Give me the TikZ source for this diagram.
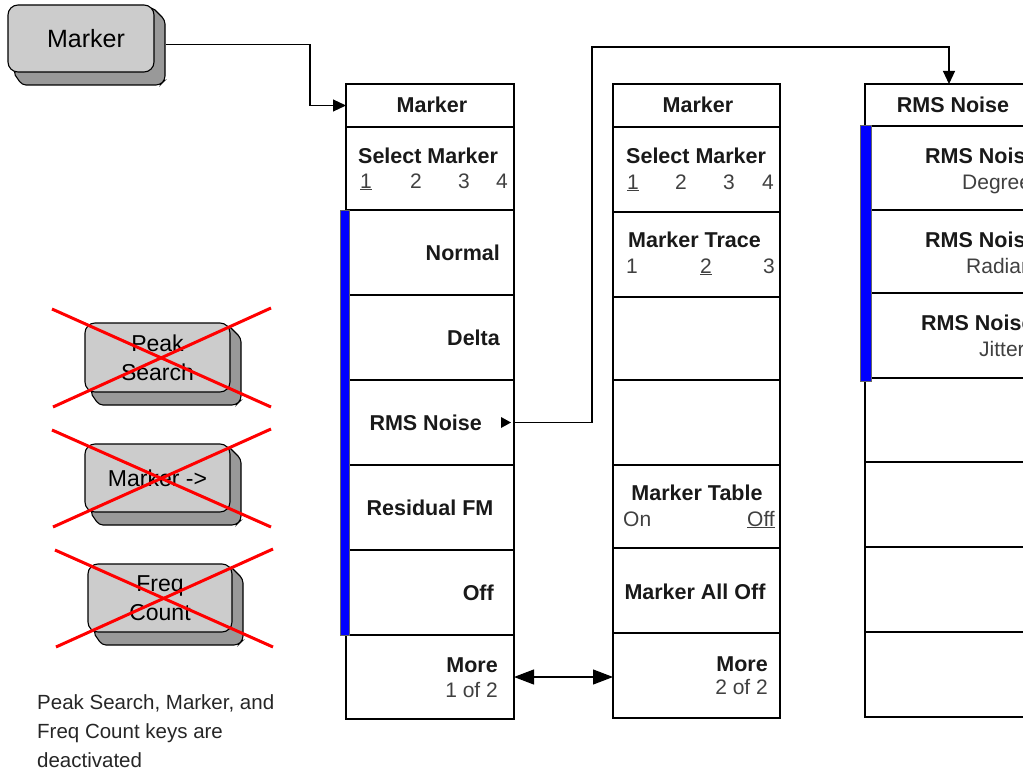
\documentclass[tikz,border=0pt]{standalone}
\usepackage{fontspec}
\setmainfont{Liberation Sans}
\usetikzlibrary{arrows.meta,calc}
\pgfdeclarelayer{bg}
\pgfsetlayers{bg,main}
\newcommand\keyshadow[1]{\begin{pgfonlayer}{bg}\draw[kshadow] ($(#1.north east)+(-2,2)$) -- ($(#1.north east)+(11,15)$) -- ($(#1.south east)+(11,8)$) -- ($(#1.south east)+(6,13)$) -- ($(#1.south west)+(14,13)$) -- ($(#1.south west)+(5,0)$) -- cycle;\end{pgfonlayer}}
\newcommand\crossout[1]{\draw[xline] ($(#1.north west)+(-33,-14)$) -- ($(#1.south east)+(41,15)$);\draw[xline] ($(#1.south west)+(-32,15)$) -- ($(#1.north east)+(41,-15)$);}
\begin{document}
\begin{tikzpicture}[x=1pt,y=-1pt,
 mcell/.style={draw=black,line width=1.2pt,anchor=north west,inner sep=0pt,outer sep=0pt},
 lbl/.style={font=\fontsize{21.5}{26}\selectfont\bfseries,inner sep=0pt,text=black!90},
 sub/.style={font=\fontsize{21}{25}\selectfont,inner sep=0pt,text=black!75},
 keyface/.style={draw=black,line width=1.1pt,fill=black!20,rounded corners=10pt,inner sep=0pt,outer sep=0pt,align=center,font=\fontsize{23}{29}\selectfont},
 kshadow/.style={draw=black,line width=1.1pt,fill=black!40,rounded corners=4pt},
 conn/.style={draw=black,line width=1.1pt},
 xline/.style={draw=red,line width=3pt},
 bar/.style={fill=blue,draw=black!60,line width=0.6pt},
 >={Triangle[length=13pt,width=12pt]}
]
\clip (0,0) rectangle (1023,776);

% ---------- panel 1 ----------
\node[mcell,minimum width=168pt,minimum height=43pt] (a0) at (346,84) {};
\node[mcell,minimum width=168pt,minimum height=83pt] (a1) at (346,127) {};
\node[mcell,minimum width=168pt,minimum height=85pt] (a2) at (346,210) {};
\node[mcell,minimum width=168pt,minimum height=85pt] (a3) at (346,295) {};
\node[mcell,minimum width=168pt,minimum height=85pt] (a4) at (346,380) {};
\node[mcell,minimum width=168pt,minimum height=85pt] (a5) at (346,465) {};
\node[mcell,minimum width=168pt,minimum height=85pt] (a6) at (346,550) {};
\node[mcell,minimum width=168pt,minimum height=84pt] (a7) at (346,635) {};
\fill[bar] (340,210) rectangle (349,635);

\node[lbl,anchor=base] (a0t) at (432,113) {Marker};
\node[lbl,anchor=base west] (a1t) at (358,163) {Select Marker};
\node[sub,anchor=base west] (a1n1) at (360,188) {\underline{1}};
\node[sub,anchor=base west] (a1n2) at (410,188) {2};
\node[sub,anchor=base west] (a1n3) at (458,188) {3};
\node[sub,anchor=base west] (a1n4) at (496,188) {4};
\node[lbl,anchor=base east] (a2t) at (500,260) {Normal};
\node[lbl,anchor=base east] (a3t) at (500,345) {Delta};
\node[lbl,anchor=base east] (a4t) at (482,430) {RMS Noise};
\fill (501,417) -- (511,422.5) -- (501,428) -- cycle;
\node[lbl,anchor=base] (a5t) at (430,515) {Residual FM};
\node[lbl,anchor=base east] (a6t) at (494,600) {Off};
\node[lbl,anchor=base east] (a7t) at (498,672) {More};
\node[sub,anchor=base east] (a7s) at (498,697) {1 of 2};

% ---------- panel 2 ----------
\node[mcell,minimum width=167pt,minimum height=43pt] (b0) at (613,84) {};
\node[mcell,minimum width=167pt,minimum height=85pt] (b1) at (613,127) {};
\node[mcell,minimum width=167pt,minimum height=85pt] (b2) at (613,212) {};
\node[mcell,minimum width=167pt,minimum height=83pt] (b3) at (613,297) {};
\node[mcell,minimum width=167pt,minimum height=85pt] (b4) at (613,380) {};
\node[mcell,minimum width=167pt,minimum height=83pt] (b5) at (613,465) {};
\node[mcell,minimum width=167pt,minimum height=85pt] (b6) at (613,548) {};
\node[mcell,minimum width=167pt,minimum height=85pt] (b7) at (613,633) {};

\node[lbl,anchor=base] (b0t) at (698,112) {Marker};
\node[lbl,anchor=base west] (b1t) at (626,163) {Select Marker};
\node[sub,anchor=base west] (b1n1) at (627,189) {\underline{1}};
\node[sub,anchor=base west] (b1n2) at (675,189) {2};
\node[sub,anchor=base west] (b1n3) at (723,189) {3};
\node[sub,anchor=base west] (b1n4) at (762,189) {4};
\node[lbl,anchor=base west] (b2t) at (628,247) {Marker Trace};
\node[sub,anchor=base west] (b2n1) at (626,273) {1};
\node[sub,anchor=base west] (b2n2) at (700,273) {\underline{2}};
\node[sub,anchor=base west] (b2n3) at (763,273) {3};
\node[lbl,anchor=base] (b5t) at (697,500) {Marker Table};
\node[sub,anchor=base west] (b5a) at (623,526) {On};
\node[sub,anchor=base east] (b5b) at (775,526) {\underline{Off}};
\node[lbl,anchor=base] (b6t) at (695,599) {Marker All Off};
\node[lbl,anchor=base east] (b7t) at (768,671) {More};
\node[sub,anchor=base east] (b7s) at (768,694) {2 of 2};

% ---------- panel 3 ----------
\node[mcell,minimum width=185pt,minimum height=42pt] (c0) at (865,84) {};
\node[mcell,minimum width=185pt,minimum height=84pt] (c1) at (865,126) {};
\node[mcell,minimum width=185pt,minimum height=83pt] (c2) at (865,210) {};
\node[mcell,minimum width=185pt,minimum height=85pt] (c3) at (865,293) {};
\node[mcell,minimum width=185pt,minimum height=84pt] (c4) at (865,378) {};
\node[mcell,minimum width=185pt,minimum height=85pt] (c5) at (865,462) {};
\node[mcell,minimum width=185pt,minimum height=85pt] (c6) at (865,547) {};
\node[mcell,minimum width=185pt,minimum height=85pt] (c7) at (865,632) {};
\fill[bar] (860,125) rectangle (871,381);

\node[lbl,anchor=base] (c0t) at (953,112) {RMS Noise};
\node[lbl,anchor=base west] (c1t) at (925,163) {RMS Noise};
\node[sub,anchor=base west] (c1s) at (962,189) {Degrees};
\node[lbl,anchor=base west] (c2t) at (925,247) {RMS Noise};
\node[sub,anchor=base west] (c2s) at (966,273) {Radians};
\node[lbl,anchor=base west] (c3t) at (921,330) {RMS Noise};
\node[sub,anchor=base west] (c3s) at (979,356) {Jitter};

% ---------- keys ----------
\node[keyface,minimum width=146pt,minimum height=67pt,font=\fontsize{25}{30}\selectfont] (mk) at (81,38.5) {\hspace*{10pt}Marker};
\keyshadow{mk}
\node[keyface,minimum width=145pt,minimum height=69pt] (ps) at (157.5,357.5) {Peak\\Search};
\keyshadow{ps}
\node[keyface,minimum width=145pt,minimum height=68pt] (mr) at (157.5,478) {Marker ->};
\keyshadow{mr}
\node[keyface,minimum width=144pt,minimum height=68pt] (fc) at (160,598) {Freq\\Count};
\keyshadow{fc}
\crossout{ps}
\crossout{mr}
\crossout{fc}

\node[anchor=base west,inner sep=0pt,font=\fontsize{20.5}{29}\selectfont,text=black!85] (cap1) at (37,709) {Peak Search, Marker, and};
\node[anchor=base west,inner sep=0pt,font=\fontsize{20.5}{29}\selectfont,text=black!85] (cap2) at (37,738) {Freq Count keys are};
\node[anchor=base west,inner sep=0pt,font=\fontsize{20.5}{29}\selectfont,text=black!85] (cap3) at (37,767) {deactivated};

% ---------- connectors ----------
\draw[conn,->] ($(mk.east)+(12,6)$) -| ($(a0.west)+(-36,0)$) -- (a0.west);
\draw[conn,->] (a4.east) -- ++(78,0) |- ($(c0.north west)+(84,-37)$) -- ($(c0.north west)+(84,0)$);
\draw[conn,{Triangle[length=20pt,width=15pt]}-{Triangle[length=20pt,width=15pt]}] (a7.east) -- (a7.east -| b7.west);
\end{tikzpicture}
\end{document}
